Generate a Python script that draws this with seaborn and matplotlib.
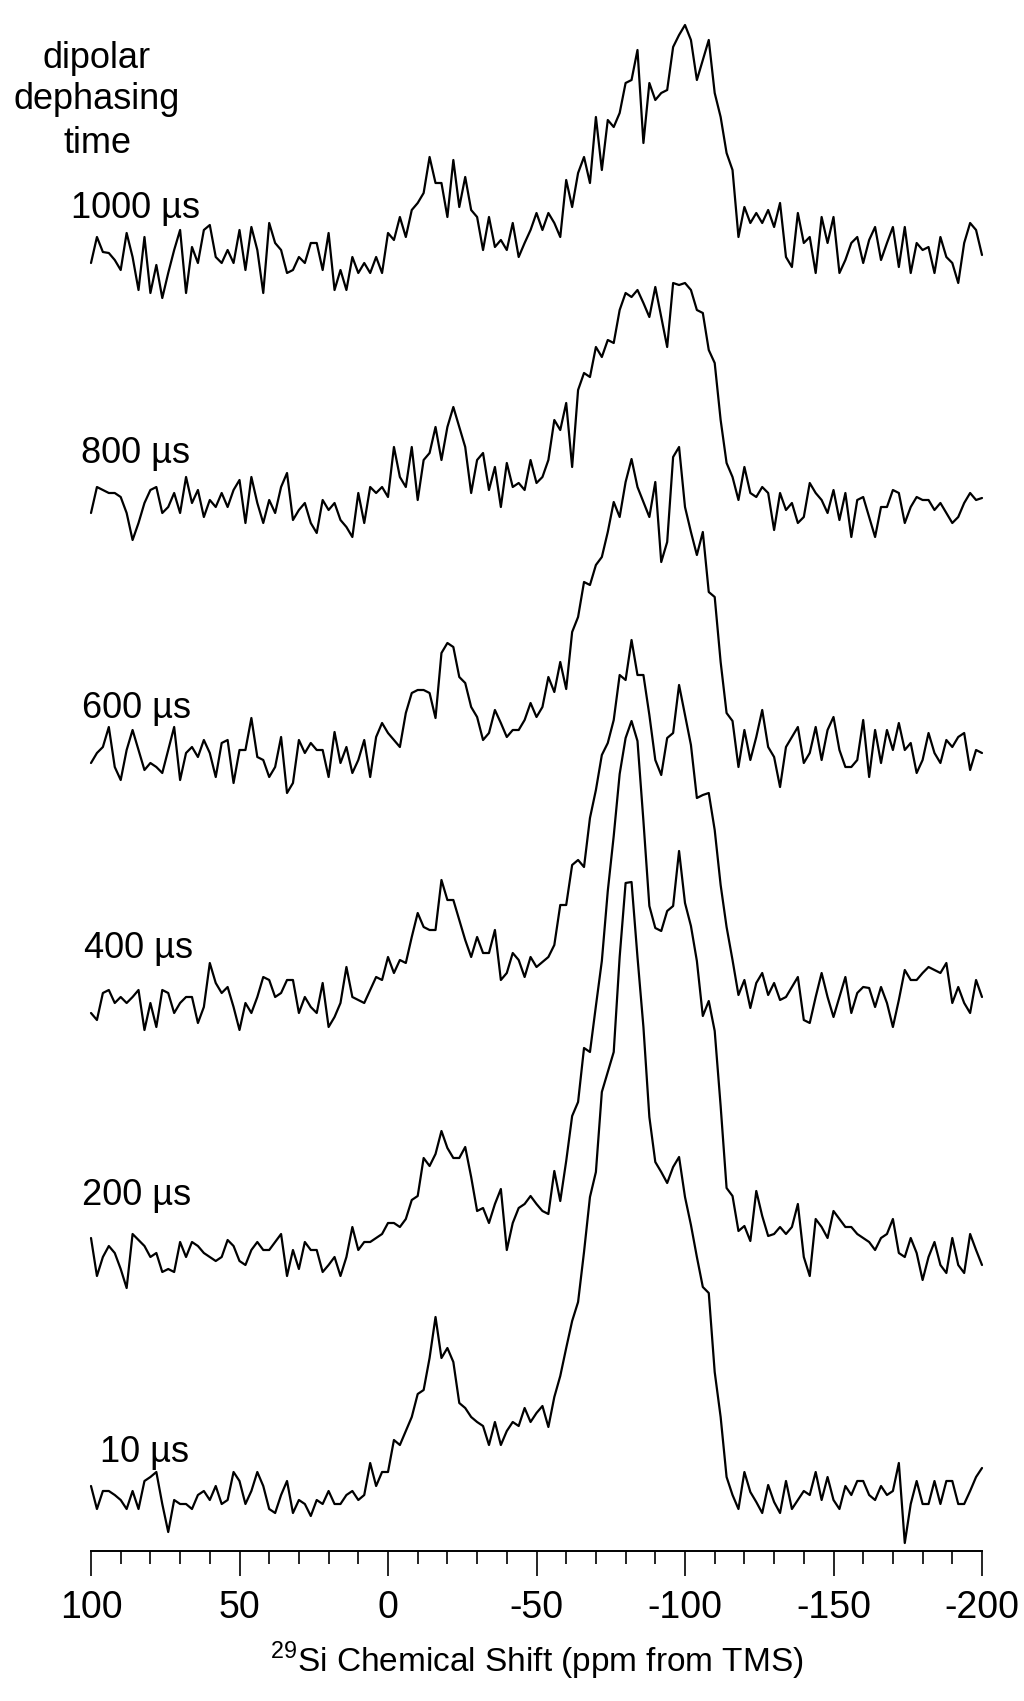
import numpy as np
import pandas as pd
import matplotlib
matplotlib.use("Agg")
import matplotlib.pyplot as plt
import seaborn as sns

# ================
# Data (heights, one value every 2 ppm, 100 -> -200 ppm)
# ================
SHIFT_PPM = np.arange(100, -201, -2)

DEPHASING_LABELS = ["1000 µs", "800 µs", "600 µs", "400 µs", "200 µs", "10 µs"]
HEADER_LINES = ["dipolar", "dephasing", "time"]
TICK_PPM = [100, 50, 0, -50, -100, -150, -200]
TICK_LABELS = ["100", "50", "0", "-50", "-100", "-150", "-200"]

T1000 = [1, 27, 12, 11, 4, -6, 31, 7, -26, 27,
         -29, -1, -34, -9, 14, 34, -29, 17, 1, 34,
         39, 7, 1, 14, 1, 34, -6, 37, 14, -29,
         41, 21, 14, -9, -6, 7, 1, 21, 21, -6,
         31, -26, -6, -26, 7, -9, 1, -9, 7, -9,
         31, 24, 47, 27, 54, 61, 71, 107, 81, 81,
         47, 104, 57, 87, 54, 47, 14, 47, 17, 24,
         14, 41, 7, 21, 34, 51, 34, 51, 41, 27,
         84, 57, 91, 107, 81, 147, 94, 144, 137, 151,
         181, 184, 214, 121, 181, 164, 171, 174, 217, 229,
         239, 224, 184, 204, 224, 171, 147, 111, 94, 27,
         57, 41, 51, 41, 54, 37, 61, 7, -3, 51,
         21, 27, -9, 47, 21, 47, -9, 4, 21, 27,
         1, 24, 37, 4, 21, 37, -3, 37, -9, 21,
         14, 17, -9, 27, 7, 1, -19, 21, 41, 34,
         9]

T800 = [-5, 21, 18, 15, 15, 11, -5, -32, -15, 5,
        18, 21, -5, 1, 15, -5, 31, 5, 18, -9,
        8, 1, 15, 1, 18, 28, -15, 31, 5, -15,
        8, -5, 21, 35, -12, -2, 5, -15, -25, 8,
        -2, 5, -12, -19, -29, 15, -15, 21, 15, 21,
        11, 61, 31, 21, 61, 8, 48, 55, 81, 48,
        81, 101, 81, 61, 15, 48, 55, 18, 41, 1,
        45, 21, 25, 18, 48, 25, 31, 48, 88, 78,
        105, 41, 118, 135, 131, 161, 151, 168, 165, 198,
        215, 211, 218, 205, 191, 221, 191, 161, 225, 223,
        225, 218, 198, 195, 158, 145, 88, 45, 31, 8,
        41, 15, 11, 21, 15, -22, 15, -2, 5, -15,
        -9, 25, 15, 8, -5, 18, -12, 15, -29, 8,
        11, -9, -29, 1, 1, 18, 15, -15, 1, 11,
        8, 8, -2, 5, -5, -15, -9, 5, 15, 8,
        10]

T600 = [-6, 4, 10, 30, -10, -23, 7, 27, 7, -13,
        -6, -10, -16, 7, 30, -23, 4, 10, 0, 17,
        4, -20, 14, 17, -26, 7, 7, 39, 0, -3,
        -20, -10, 20, -36, -26, 17, 4, 14, 7, 7,
        -20, 25, -6, 10, -16, -3, 17, -20, 20, 34,
        24, 17, 10, 44, 64, 67, 67, 64, 39, 104,
        114, 110, 80, 74, 50, 40, 17, 24, 47, 34,
        20, 27, 27, 37, 54, 40, 50, 80, 65, 95,
        68, 125, 140, 175, 172, 192, 200, 225, 255, 240,
        275, 298, 270, 255, 240, 275, 195, 215, 300, 310,
        250, 225, 202, 225, 165, 160, 95, 44, 36, -10,
        27, -3, 20, 47, 10, 0, -30, 10, 20, 30,
        -6, 4, 30, -3, 27, 40, 7, -10, -10, -3,
        37, -20, 27, -6, 27, 7, 34, 7, 14, -16,
        -3, 24, 4, -6, 17, 10, 20, 24, -13, 7,
        4]

T400 = [-8, -15, 12, 15, 2, 8, 2, 8, 15, -25,
        2, -22, 15, 12, -8, 2, 8, 8, -18, -2,
        42, 22, 12, 18, -2, -25, 2, -8, 8, 28,
        25, 8, 12, 25, 25, -8, 8, -2, -8, 22,
        -22, -12, 2, 38, 8, 5, 2, 15, 28, 25,
        48, 32, 45, 42, 68, 92, 78, 75, 75, 125,
        105, 105, 85, 65, 48, 68, 52, 52, 75, 25,
        32, 52, 45, 28, 48, 38, 43, 48, 60, 100,
        100, 140, 145, 138, 187, 215, 250, 262, 285, 330,
        325, 365, 330, 330, 290, 245, 230, 267, 272, 320,
        290, 260, 207, 210, 212, 175, 120, 78, 45, 10,
        25, -3, 22, 32, 10, 22, 5, 8, 18, 28,
        -15, -18, 8, 32, 8, -12, 8, 28, -8, 12,
        18, 17, -2, 18, 2, -22, 5, 35, 25, 25,
        32, 38, 35, 32, 42, 2, 18, 2, -8, 25,
        8]

T200 = [18, -20, -1, 10, 3, -13, -32, 22, 16, 10,
        -1, 3, -16, -13, -16, 14, -1, 14, 10, 3,
        -1, -5, -1, 16, 10, -5, -9, 6, 14, 6,
        6, 14, 22, -20, 6, -13, 14, 6, 6, -16,
        -9, -1, -20, -1, 29, 6, 14, 14, 18, 22,
        33, 33, 29, 37, 56, 60, 98, 90, 102, 125,
        108, 98, 98, 109, 79, 45, 48, 33, 52, 67,
        6, 33, 48, 52, 60, 52, 45, 42, 85, 55,
        95, 140, 154, 208, 204, 250, 295, 365, 420, 482,
        518, 535, 515, 435, 350, 328, 325, 345, 350, 405,
        353, 330, 295, 240, 255, 225, 150, 68, 60, 25,
        30, 15, 65, 40, 20, 22, 29, 22, 29, 52,
        -1, -20, 37, 29, 18, 45, 37, 29, 29, 22,
        18, 14, 6, 18, 22, 37, 3, -1, 18, 3,
        -24, -1, 14, -9, -17, 18, -9, -17, 22, 6,
        -9]

T10 = [11, -12, 6, 6, 2, -3, -12, 6, -12, 16,
       20, 25, -7, -35, -3, -7, -7, -12, 2, 6,
       -3, 11, -7, -3, 25, 16, -7, 6, 25, 11,
       -12, -16, 2, 16, -16, -3, -7, -19, -3, -7,
       6, -7, -7, 2, 6, -3, 2, 34, 11, 25,
       25, 57, 52, 66, 80, 103, 107, 139, 180, 139,
       149, 135, 94, 89, 80, 75, 71, 52, 75, 52,
       66, 75, 71, 89, 75, 84, 91, 70, 100, 121,
       149, 176, 195, 245, 300, 325, 405, 425, 445, 540,
       614, 615, 540, 470, 380, 335, 325, 314, 330, 340,
       300, 272, 240, 210, 204, 125, 80, 20, 2, -12,
       25, 5, -5, -16, 12, -5, -16, 16, -12, -3,
       6, 2, 25, -3, 20, -3, -12, 11, 2, 16,
       16, 2, -3, 11, 2, 6, 34, -46, -7, 16,
       -7, -7, 16, -7, 16, 16, -7, -7, 6, 20,
       29]

SPECTRA = [T1000, T800, T600, T400, T200, T10]

# ================
# Layout (figure pixels)
# ================
W, H = 1024, 1701
AX_LEFT, AX_RIGHT = 91, 982
AX_LINE_Y = 1551
BASELINE_Y = [264, 508, 757, 1005, 1256, 1497]
LABEL_XY = [(71, 218), (81, 463), (82, 718), (84, 958), (82, 1205), (100, 1462)]
HEADER_XY = [(97, 68), (97, 109), (97, 153)]

# ================
# Build long table
# ================
frames = []
for name, trace, base in zip(DEPHASING_LABELS, SPECTRA, BASELINE_Y):
    assert len(trace) == len(SHIFT_PPM), name
    frames.append(pd.DataFrame({
        "ppm": SHIFT_PPM,
        "signal": np.asarray(trace, dtype=float) + (AX_LINE_Y - base),
        "trace": name,
    }))
df = pd.concat(frames, ignore_index=True)

# ================
# Plot
# ================
sns.set_style("ticks")
plt.rcParams["font.family"] = ["Liberation Sans", "DejaVu Sans"]
plt.rcParams["mathtext.fontset"] = "custom"
plt.rcParams["mathtext.rm"] = "Liberation Sans"
plt.rcParams["axes.unicode_minus"] = False
plt.rcParams["text.color"] = "black"
plt.rcParams["axes.labelcolor"] = "black"
plt.rcParams["xtick.color"] = "black"

fig = plt.figure(figsize=(W / 100, H / 100), dpi=100)
ax = fig.add_axes([AX_LEFT / W, (H - AX_LINE_Y) / H, (AX_RIGHT - AX_LEFT) / W, AX_LINE_Y / H])

sns.lineplot(data=df, x="ppm", y="signal", units="trace", estimator=None, sort=False,
             color="black", linewidth=1.6, ax=ax)
for line in ax.lines:
    line.set_clip_on(False)

ax.set_xlim(100, -200)
ax.set_ylim(0, AX_LINE_Y)
ax.set_yticks([])
ax.set_ylabel("")
ax.set_xticks(TICK_PPM)
ax.set_xticklabels(TICK_LABELS)
ax.set_xticks(np.arange(100, -201, -10), minor=True)
ax.tick_params(axis="x", which="both", bottom=True, top=False, direction="out", color="black")
ax.tick_params(axis="x", which="major", length=18, width=1.2, labelsize=27, pad=10)
ax.tick_params(axis="x", which="minor", length=9.5, width=1.2)
sns.despine(ax=ax, left=True, top=True, right=True)
ax.spines["bottom"].set_linewidth(1.4)
ax.spines["bottom"].set_color("black")
ax.set_xlabel(r"$^{29}$Si Chemical Shift (ppm from TMS)", fontsize=24, labelpad=10)

for (x, y), lab in zip(LABEL_XY, DEPHASING_LABELS):
    fig.text(x / W, 1 - y / H, lab, ha="left", va="baseline", fontsize=26)
for (x, y), txt in zip(HEADER_XY, HEADER_LINES):
    fig.text(x / W, 1 - y / H, txt, ha="center", va="baseline", fontsize=26)

fig.savefig("out.png", dpi=100)
